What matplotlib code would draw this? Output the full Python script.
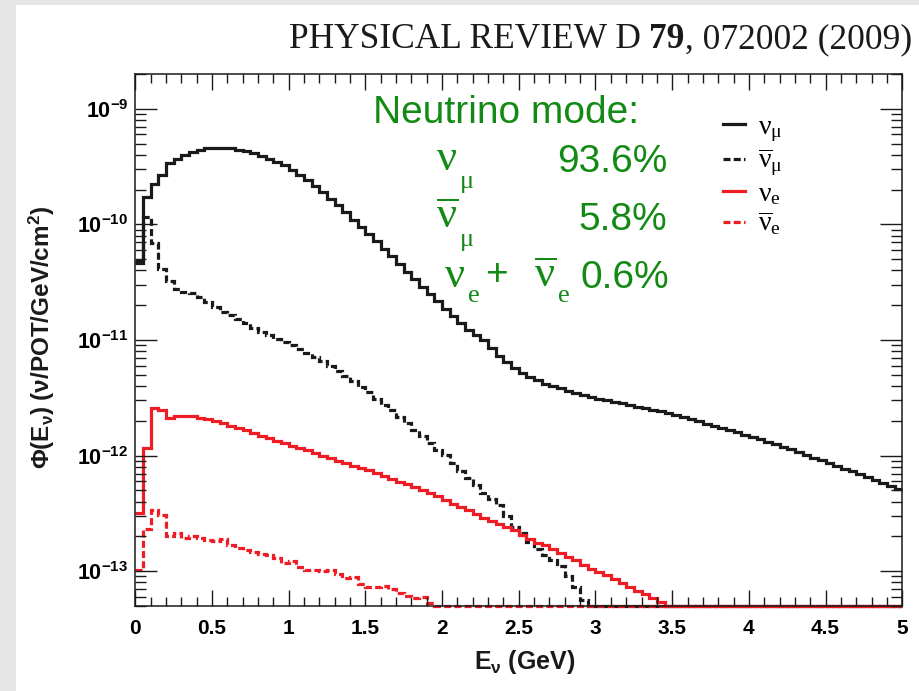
import numpy as np
import matplotlib
matplotlib.use("Agg")
import matplotlib.pyplot as plt
from matplotlib.patches import Rectangle
from matplotlib.lines import Line2D
from matplotlib.ticker import MultipleLocator, LogLocator, NullFormatter

plt.rcParams['font.family'] = ['Liberation Sans', 'DejaVu Sans']
plt.rcParams['mathtext.fontset'] = 'custom'
plt.rcParams['mathtext.rm'] = 'Liberation Sans'
plt.rcParams['mathtext.bf'] = 'Liberation Sans:bold'
plt.rcParams['mathtext.it'] = 'Liberation Serif'
plt.rcParams['mathtext.sf'] = 'Liberation Sans'

# ---------------- data (flux per bin, 0.05 GeV bins from 0 to 5 GeV) ----------------
bin_edges_gev = np.linspace(0.0, 5.0, 101)

numu = [
    4.59e-11, 1.73e-10, 2.25e-10, 2.66e-10, 3.39e-10, 3.70e-10, 4.01e-10, 4.22e-10, 4.43e-10, 4.57e-10,
    4.61e-10, 4.61e-10, 4.54e-10, 4.43e-10, 4.28e-10, 4.14e-10, 3.93e-10, 3.70e-10, 3.46e-10, 3.24e-10,
    2.93e-10, 2.66e-10, 2.40e-10, 2.13e-10, 1.91e-10, 1.67e-10, 1.46e-10, 1.28e-10, 1.09e-10, 9.50e-11,
    8.22e-11, 7.15e-11, 6.10e-11, 5.31e-11, 4.53e-11, 3.86e-11, 3.36e-11, 2.87e-11, 2.49e-11, 2.17e-11,
    1.85e-11, 1.61e-11, 1.40e-11, 1.22e-11, 1.10e-11, 1.00e-11, 8.53e-12, 7.27e-12, 6.46e-12, 5.73e-12,
    5.19e-12, 4.79e-12, 4.52e-12, 4.17e-12, 4.01e-12, 3.85e-12, 3.63e-12, 3.49e-12, 3.35e-12, 3.22e-12,
    3.10e-12, 3.03e-12, 2.92e-12, 2.86e-12, 2.75e-12, 2.64e-12, 2.59e-12, 2.49e-12, 2.44e-12, 2.34e-12,
    2.25e-12, 2.16e-12, 2.08e-12, 2.00e-12, 1.88e-12, 1.81e-12, 1.74e-12, 1.67e-12, 1.61e-12, 1.51e-12,
    1.45e-12, 1.40e-12, 1.32e-12, 1.27e-12, 1.19e-12, 1.15e-12, 1.08e-12, 1.02e-12, 9.58e-13, 9.21e-13,
    8.68e-13, 8.18e-13, 7.70e-13, 7.40e-13, 6.97e-13, 6.57e-13, 6.19e-13, 5.83e-13, 5.49e-13, 5.17e-13,
]

numubar = [
    4.80e-11, 1.16e-10, 6.88e-11, 4.10e-11, 3.25e-11, 2.75e-11, 2.61e-11, 2.53e-11, 2.36e-11, 2.14e-11,
    1.94e-11, 1.75e-11, 1.64e-11, 1.51e-11, 1.39e-11, 1.26e-11, 1.18e-11, 1.10e-11, 1.03e-11, 9.70e-12,
    9.05e-12, 8.28e-12, 7.65e-12, 7.06e-12, 6.52e-12, 5.96e-12, 5.35e-12, 4.89e-12, 4.43e-12, 3.93e-12,
    3.56e-12, 3.10e-12, 2.75e-12, 2.46e-12, 2.16e-12, 1.92e-12, 1.67e-12, 1.47e-12, 1.29e-12, 1.12e-12,
    1.02e-12, 8.68e-13, 7.40e-13, 6.44e-13, 5.60e-13, 4.78e-13, 4.24e-13, 3.76e-13, 3.03e-13, 2.43e-13,
    2.12e-13, 1.80e-13, 1.57e-13, 1.39e-13, 1.26e-13, 1.10e-13, 9.00e-14, 7.23e-14, 5.69e-14, 0.0,
    0.0, 0.0, 0.0, 0.0, 0.0, 0.0, 0.0, 0.0, 0.0, 0.0,
    0.0, 0.0, 0.0, 0.0, 0.0, 0.0, 0.0, 0.0, 0.0, 0.0,
    0.0, 0.0, 0.0, 0.0, 0.0, 0.0, 0.0, 0.0, 0.0, 0.0,
    0.0, 0.0, 0.0, 0.0, 0.0, 0.0, 0.0, 0.0, 0.0, 0.0,
]

nue = [
    3.19e-13, 1.16e-12, 2.57e-12, 2.49e-12, 2.11e-12, 2.18e-12, 2.22e-12, 2.18e-12, 2.13e-12, 2.07e-12,
    2.00e-12, 1.91e-12, 1.82e-12, 1.73e-12, 1.65e-12, 1.57e-12, 1.48e-12, 1.42e-12, 1.34e-12, 1.28e-12,
    1.22e-12, 1.16e-12, 1.11e-12, 1.05e-12, 9.97e-13, 9.53e-13, 9.03e-13, 8.63e-13, 8.18e-13, 7.81e-13,
    7.44e-13, 7.11e-13, 6.70e-13, 6.31e-13, 5.95e-13, 5.71e-13, 5.38e-13, 5.07e-13, 4.78e-13, 4.50e-13,
    4.16e-13, 3.84e-13, 3.62e-13, 3.41e-13, 3.15e-13, 2.91e-13, 2.74e-13, 2.58e-13, 2.43e-13, 2.25e-13,
    2.07e-13, 1.91e-13, 1.77e-13, 1.67e-13, 1.57e-13, 1.45e-13, 1.34e-13, 1.24e-13, 1.14e-13, 1.05e-13,
    9.94e-14, 9.18e-14, 8.48e-14, 7.83e-14, 7.23e-14, 6.68e-14, 6.29e-14, 5.81e-14, 5.37e-14, 0.0,
    0.0, 0.0, 0.0, 0.0, 0.0, 0.0, 0.0, 0.0, 0.0, 0.0,
    0.0, 0.0, 0.0, 0.0, 0.0, 0.0, 0.0, 0.0, 0.0, 0.0,
    0.0, 0.0, 0.0, 0.0, 0.0, 0.0, 0.0, 0.0, 0.0, 0.0,
]

nuebar = [
    1.03e-13, 2.32e-13, 3.41e-13, 3.09e-13, 2.03e-13, 2.12e-13, 1.94e-13, 2.00e-13, 1.94e-13, 1.88e-13,
    1.82e-13, 1.90e-13, 1.70e-13, 1.59e-13, 1.54e-13, 1.46e-13, 1.42e-13, 1.39e-13, 1.30e-13, 1.18e-13,
    1.22e-13, 1.09e-13, 1.03e-13, 1.02e-13, 1.00e-13, 1.02e-13, 9.37e-14, 8.77e-14, 8.94e-14, 7.68e-14,
    7.33e-14, 7.23e-14, 7.38e-14, 6.95e-14, 6.42e-14, 6.05e-14, 5.81e-14, 5.93e-14, 5.26e-14, 0.0,
    0.0, 0.0, 0.0, 0.0, 0.0, 0.0, 0.0, 0.0, 0.0, 0.0,
    0.0, 0.0, 0.0, 0.0, 0.0, 0.0, 0.0, 0.0, 0.0, 0.0,
    0.0, 0.0, 0.0, 0.0, 0.0, 0.0, 0.0, 0.0, 0.0, 0.0,
    0.0, 0.0, 0.0, 0.0, 0.0, 0.0, 0.0, 0.0, 0.0, 0.0,
    0.0, 0.0, 0.0, 0.0, 0.0, 0.0, 0.0, 0.0, 0.0, 0.0,
    0.0, 0.0, 0.0, 0.0, 0.0, 0.0, 0.0, 0.0, 0.0, 0.0,
]

x_tick_values = [0, 0.5, 1, 1.5, 2, 2.5, 3, 3.5, 4, 4.5, 5]
x_tick_labels = ['0', '0.5', '1', '1.5', '2', '2.5', '3', '3.5', '4', '4.5', '5']
y_tick_values = [1e-13, 1e-12, 1e-11, 1e-10, 1e-9]
y_tick_labels = [r'$\mathbf{10^{-13}}$', r'$\mathbf{10^{-12}}$', r'$\mathbf{10^{-11}}$',
                 r'$\mathbf{10^{-10}}$', r'$\mathbf{10^{-9}}$']
legend_labels = [r'$\nu_{\mu}$', r'$\overline{\nu}_{\mu}$', r'$\nu_{e}$', r'$\overline{\nu}_{e}$']
fractions = ['93.6%', '5.8%', '0.6%']

Y_MIN, Y_MAX = 5.0e-14, 2.0e-9

# ---------------- figure ----------------
W, H = 920, 691
fig = plt.figure(figsize=(W / 100, H / 100), dpi=100)
fig.patch.set_facecolor('#e6e6e6')
fx = lambda x: x / W
fy = lambda y: 1 - y / H
fig.add_artist(Rectangle((fx(16), 0), 1, fy(5), transform=fig.transFigure,
                         facecolor='white', edgecolor='none', zorder=-10))

ax = fig.add_axes([fx(135.3), fy(606), fx(902.3) - fx(135.3), fy(74) - fy(606)])
ax.set_yscale('log')
ax.set_xlim(0, 5)
ax.set_ylim(Y_MIN, Y_MAX)

BLACK = '#1a1a1a'
RED = '#ee1c24'
GREEN = '#138a13'
LW = 2.3
DASH = (2.2, 1.0)

series = [
    (numu, BLACK, '-'),
    (numubar, BLACK, '--'),
    (nue, RED, '-'),
    (nuebar, RED, '--'),
]
handles = []
for vals, col, ls in series:
    v = np.clip(np.asarray(vals, dtype=float), Y_MIN, None)
    st = ax.stairs(v, bin_edges_gev, baseline=None, color=col, linewidth=LW,
                   linestyle=ls, clip_on=False)
    if ls == '--':
        st.set_linestyle((0, DASH))
    h = Line2D([], [], color=col, linewidth=LW, linestyle=(0, DASH) if ls == '--' else '-')
    handles.append(h)

# ticks
ax.set_xticks(x_tick_values, labels=x_tick_labels)
ax.xaxis.set_minor_locator(MultipleLocator(0.1))
ax.set_yticks(y_tick_values, labels=y_tick_labels)
ax.yaxis.set_minor_locator(LogLocator(base=10, subs=np.arange(2, 10), numticks=20))
ax.yaxis.set_minor_formatter(NullFormatter())
ax.tick_params(which='both', direction='in', top=True, right=True, color=BLACK, width=1.0)
ax.xaxis.set_tick_params(which='major', length=11.5, pad=9, labelsize=15)
ax.xaxis.set_tick_params(which='minor', length=6.5)
ax.yaxis.set_tick_params(which='major', length=15.8, pad=5, labelsize=15.5)
ax.yaxis.set_tick_params(which='minor', length=8)
for lab in ax.get_xticklabels():
    lab.set_fontweight('bold')
for s in ax.spines.values():
    s.set_linewidth(1.1)
    s.set_color(BLACK)

# axis titles
fig.text(fx(42), fy(337), r'$\mathbf{\Phi(E_{\nu})\ (\nu/POT/GeV/cm^{2})}$',
         rotation=90, ha='center', va='center', fontsize=17.5, color=BLACK)
fig.text(fx(525), fy(662), r'$\mathbf{E_{\nu}\ (GeV)}$', ha='center', va='center',
         fontsize=18, color=BLACK)

# legend
ax.legend(handles, legend_labels, loc='upper left', bbox_to_anchor=(fx(709), fy(100)),
          bbox_transform=fig.transFigure, frameon=False, fontsize=20,
          handlelength=0.8, handletextpad=0.45, labelspacing=0.1, borderpad=0)

# green annotation
fig.text(fx(373), fy(122.7), 'Neutrino mode:', fontsize=28, color=GREEN, va='baseline')
fig.text(fx(667), fy(172), fractions[0], fontsize=28, color=GREEN, va='baseline', ha='right')
fig.text(fx(667), fy(230), fractions[1], fontsize=28, color=GREEN, va='baseline', ha='right')
fig.text(fx(669), fy(288), fractions[2], fontsize=28, color=GREEN, va='baseline', ha='right')
NU = 32
SUB = 19
# nu_mu
fig.text(fx(436), fy(170), r'$\nu$', fontsize=NU, color=GREEN, va='baseline')
fig.text(fx(459), fy(188), r'$\mu$', fontsize=SUB, color=GREEN, va='baseline')
# nubar_mu
fig.text(fx(436), fy(228), r'$\overline{\nu}$', fontsize=NU, color=GREEN, va='baseline')
fig.text(fx(459), fy(246), r'$\mu$', fontsize=SUB, color=GREEN, va='baseline')
# nu_e + nubar_e
fig.text(fx(444), fy(287), r'$\nu$', fontsize=NU, color=GREEN, va='baseline')
fig.text(fx(467), fy(302), r'$e$', fontsize=SUB, color=GREEN, va='baseline')
fig.text(fx(485), fy(285), '+', fontsize=28, color=GREEN, va='baseline')
fig.text(fx(534), fy(287), r'$\overline{\nu}$', fontsize=NU, color=GREEN, va='baseline')
fig.text(fx(557), fy(302), r'$e$', fontsize=SUB, color=GREEN, va='baseline')

# journal header
SER = ['Liberation Serif', 'DejaVu Serif']
r = fig.canvas.get_renderer()
HS = 25.5
t3 = fig.text(fx(912), fy(48), ', 072002 (2009)', fontsize=HS, family=SER, ha='right',
              va='baseline', color=BLACK)
x3 = t3.get_window_extent(r).x0
t2 = fig.text(x3 / W, fy(48), '79', fontsize=HS, family=SER, weight='bold', ha='right',
              va='baseline', color=BLACK)
x2 = t2.get_window_extent(r).x0
fig.text(x2 / W, fy(48), 'PHYSICAL REVIEW D ', fontsize=HS, family=SER, ha='right',
         va='baseline', color=BLACK)

fig.savefig('out.png', dpi=100, facecolor=fig.get_facecolor())
